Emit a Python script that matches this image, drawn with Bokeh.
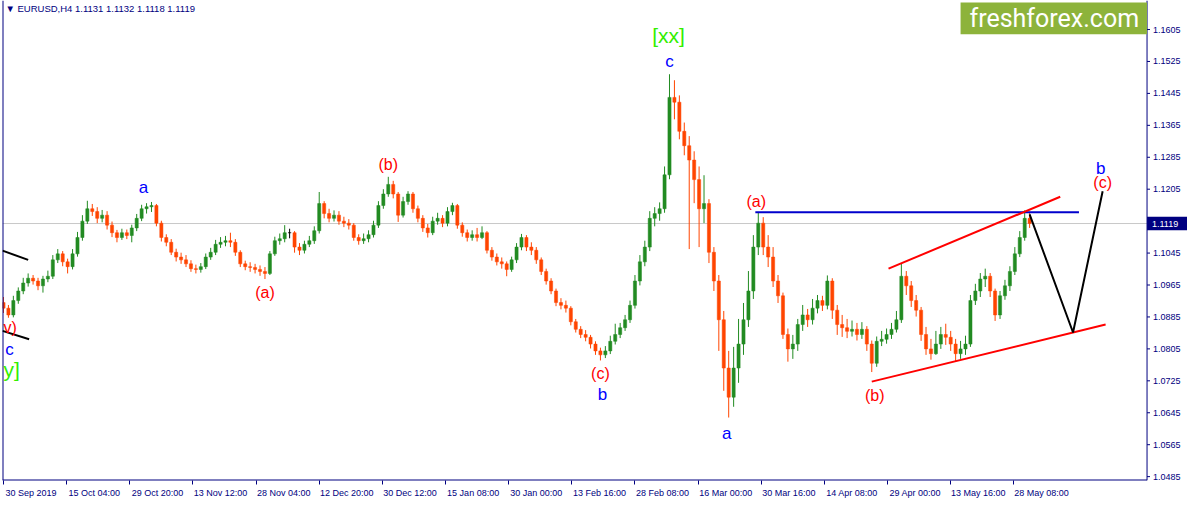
from bokeh.plotting import figure
from bokeh.models import ColumnDataSource, Range1d, FixedTicker, Span
from bokeh.core.properties import value
from bokeh.embed import file_html
from bokeh.resources import INLINE

# ---------------- data ----------------
symbol_title = "\u25bc EURUSD,H4  1.1131 1.1132 1.1118 1.1119"
last_price = 1.1119
last_price_text = "1.1119"
bar_step = 5          # H4 bars per drawn candle
first_open = 1.0921

closes = [
    1.0907, 1.0890, 1.0926, 1.0950, 1.0970, 1.0982, 1.0975, 1.0963, 1.0980, 1.0987,
    1.1028, 1.1043, 1.1023, 1.1011, 1.1043, 1.1084, 1.1125, 1.1156, 1.1149, 1.1132,
    1.1140, 1.1115, 1.1096, 1.1084, 1.1096, 1.1089, 1.1108, 1.1132, 1.1156, 1.1161,
    1.1164, 1.1120, 1.1084, 1.1072, 1.1047, 1.1035, 1.1028, 1.1018, 1.1006, 1.1004,
    1.1011, 1.1035, 1.1047, 1.1067, 1.1072, 1.1076, 1.1072, 1.1047, 1.1018, 1.1011,
    1.1009, 1.1004, 1.0999, 1.0994, 1.1043, 1.1076, 1.1081, 1.1096, 1.1096, 1.1060,
    1.1052, 1.1067, 1.1076, 1.1101, 1.1169, 1.1144, 1.1132, 1.1140, 1.1125, 1.1120,
    1.1115, 1.1084, 1.1076, 1.1081, 1.1091, 1.1115, 1.1164, 1.1193, 1.1217, 1.1193,
    1.1140, 1.1174, 1.1193, 1.1156, 1.1132, 1.1108, 1.1096, 1.1125, 1.1132, 1.1120,
    1.1149, 1.1164, 1.1115, 1.1096, 1.1084, 1.1091, 1.1084, 1.1096, 1.1052, 1.1035,
    1.1023, 1.1018, 1.1004, 1.1028, 1.1060, 1.1084, 1.1060, 1.1052, 1.1028, 1.0999,
    1.0975, 1.0950, 1.0921, 1.0914, 1.0907, 1.0873, 1.0854, 1.0841, 1.0834, 1.0817,
    1.0800, 1.0790, 1.0800, 1.0824, 1.0841, 1.0858, 1.0878, 1.0914, 1.0975, 1.1023,
    1.1060, 1.1132, 1.1144, 1.1156, 1.1241, 1.1435, 1.1423, 1.1350, 1.1314, 1.1278,
    1.1229, 1.1156, 1.1169, 1.1047, 1.0975, 1.0878, 1.0757, 1.0684, 1.0757, 1.0817,
    1.0878, 1.0950, 1.1060, 1.1120, 1.1060, 1.1035, 1.0975, 1.0938, 1.0841, 1.0805,
    1.0817, 1.0866, 1.0890, 1.0878, 1.0907, 1.0926, 1.0914, 1.0975, 1.0902, 1.0866,
    1.0858, 1.0849, 1.0854, 1.0841, 1.0854, 1.0817, 1.0769, 1.0824, 1.0829, 1.0841,
    1.0854, 1.0878, 1.0987, 1.0963, 1.0926, 1.0902, 1.0841, 1.0805, 1.0793, 1.0817,
    1.0841, 1.0834, 1.0817, 1.0793, 1.0805, 1.0817, 1.0926, 1.0950, 1.0980, 1.0987,
    1.0950, 1.0890, 1.0938, 1.0963, 1.0999, 1.1043, 1.1084, 1.1132, 1.1119,
]
highs = [
    1.0935, 1.0915, 1.0938, 1.0959, 1.0983, 1.0994, 1.0990, 1.0983, 1.0988, 1.1001,
    1.1040, 1.1055, 1.1050, 1.1031, 1.1055, 1.1098, 1.1140, 1.1176, 1.1168, 1.1160,
    1.1153, 1.1150, 1.1124, 1.1103, 1.1106, 1.1104, 1.1116, 1.1143, 1.1166, 1.1170,
    1.1173, 1.1168, 1.1126, 1.1092, 1.1080, 1.1056, 1.1046, 1.1040, 1.1027, 1.1016,
    1.1020, 1.1044, 1.1058, 1.1078, 1.1085, 1.1088, 1.1096, 1.1080, 1.1052, 1.1026,
    1.1022, 1.1018, 1.1014, 1.1010, 1.1050, 1.1086, 1.1094, 1.1115, 1.1106, 1.1100,
    1.1070, 1.1076, 1.1088, 1.1112, 1.1198, 1.1175, 1.1156, 1.1152, 1.1150, 1.1136,
    1.1130, 1.1120, 1.1092, 1.1094, 1.1102, 1.1126, 1.1175, 1.1205, 1.1236, 1.1226,
    1.1198, 1.1186, 1.1200, 1.1198, 1.1164, 1.1140, 1.1118, 1.1136, 1.1146, 1.1140,
    1.1160, 1.1171, 1.1168, 1.1122, 1.1104, 1.1102, 1.1108, 1.1112, 1.1100, 1.1060,
    1.1044, 1.1034, 1.1024, 1.1036, 1.1070, 1.1093, 1.1090, 1.1072, 1.1060, 1.1034,
    1.1006, 1.0982, 1.0956, 1.0932, 1.0926, 1.0912, 1.0880, 1.0862, 1.0852, 1.0840,
    1.0824, 1.0808, 1.0812, 1.0838, 1.0868, 1.0870, 1.0890, 1.0926, 1.0990, 1.1040,
    1.1076, 1.1150, 1.1160, 1.1172, 1.1262, 1.1493, 1.1478, 1.1440, 1.1372, 1.1338,
    1.1300, 1.1262, 1.1240, 1.1180, 1.1060, 1.0990, 1.0900, 1.0800, 1.0810, 1.0880,
    1.0920, 1.1000, 1.1090, 1.1147, 1.1135, 1.1090, 1.1060, 1.0990, 1.0946, 1.0856,
    1.0840, 1.0880, 1.0915, 1.0905, 1.0930, 1.0940, 1.0938, 1.0989, 1.0982, 1.0915,
    1.0890, 1.0880, 1.0876, 1.0870, 1.0872, 1.0862, 1.0826, 1.0836, 1.0850, 1.0856,
    1.0870, 1.0900, 1.1018, 1.1000, 1.0975, 1.0940, 1.0910, 1.0860, 1.0830, 1.0850,
    1.0860, 1.0868, 1.0850, 1.0830, 1.0825, 1.0838, 1.0940, 1.0968, 1.0995, 1.1006,
    1.0995, 1.0956, 1.0950, 1.0978, 1.1012, 1.1060, 1.1100, 1.1152, 1.1148,
]
lows = [
    1.0895, 1.0883, 1.0884, 1.0918, 1.0942, 1.0961, 1.0966, 1.0952, 1.0946, 1.0972,
    1.0980, 1.1020, 1.1012, 1.0994, 1.1004, 1.1036, 1.1076, 1.1118, 1.1138, 1.1120,
    1.1122, 1.1104, 1.1085, 1.1072, 1.1078, 1.1080, 1.1072, 1.1100, 1.1125, 1.1144,
    1.1148, 1.1112, 1.1074, 1.1062, 1.1040, 1.1024, 1.1018, 1.1010, 1.0998, 1.0994,
    1.0996, 1.1005, 1.1028, 1.1040, 1.1058, 1.1062, 1.1060, 1.1038, 1.1010, 1.1002,
    1.0998, 1.0994, 1.0988, 1.0980, 1.0990, 1.1038, 1.1066, 1.1072, 1.1082, 1.1046,
    1.1040, 1.1044, 1.1060, 1.1068, 1.1094, 1.1132, 1.1122, 1.1124, 1.1116, 1.1110,
    1.1104, 1.1076, 1.1066, 1.1068, 1.1072, 1.1084, 1.1108, 1.1156, 1.1186, 1.1182,
    1.1123, 1.1134, 1.1166, 1.1146, 1.1122, 1.1098, 1.1084, 1.1090, 1.1116, 1.1110,
    1.1112, 1.1140, 1.1106, 1.1086, 1.1074, 1.1076, 1.1074, 1.1080, 1.1044, 1.1026,
    1.1014, 1.1006, 1.0987, 1.0998, 1.1020, 1.1052, 1.1050, 1.1040, 1.1018, 1.0990,
    1.0966, 1.0942, 1.0912, 1.0904, 1.0896, 1.0864, 1.0846, 1.0832, 1.0824, 1.0806,
    1.0790, 1.0776, 1.0782, 1.0792, 1.0816, 1.0832, 1.0850, 1.0870, 1.0906, 1.0964,
    1.1012, 1.1050, 1.1112, 1.1126, 1.1146, 1.1230, 1.1380, 1.1330, 1.1290, 1.1055,
    1.1170, 1.1060, 1.1120, 1.1020, 1.0950, 1.0800, 1.0700, 1.0633, 1.0660, 1.0720,
    1.0790, 1.0860, 1.0930, 1.1040, 1.1040, 1.1010, 1.0960, 1.0920, 1.0830, 1.0773,
    1.0780, 1.0800, 1.0850, 1.0860, 1.0866, 1.0894, 1.0900, 1.0904, 1.0880, 1.0840,
    1.0835, 1.0832, 1.0836, 1.0826, 1.0830, 1.0800, 1.0747, 1.0760, 1.0812, 1.0818,
    1.0830, 1.0846, 1.0870, 1.0940, 1.0910, 1.0886, 1.0825, 1.0790, 1.0778, 1.0790,
    1.0805, 1.0815, 1.0800, 1.0773, 1.0780, 1.0790, 1.0810, 1.0915, 1.0935, 1.0960,
    1.0935, 1.0875, 1.0880, 1.0928, 1.0950, 1.0990, 1.1035, 1.1076, 1.1108,
]

time_tick_bars = [0, 64, 128, 192, 256, 320, 384, 448, 512, 576, 640, 704, 768, 832, 896, 960, 1024]
time_tick_labels = ["30 Sep 2019", "15 Oct 04:00", "29 Oct 20:00", "13 Nov 12:00", "28 Nov 04:00",
                    "12 Dec 20:00", "30 Dec 12:00", "15 Jan 08:00", "30 Jan 00:00", "13 Feb 16:00",
                    "28 Feb 08:00", "16 Mar 00:00", "30 Mar 16:00", "14 Apr 08:00", "29 Apr 00:00",
                    "13 May 16:00", "28 May 08:00"]
price_ticks = [1.0485, 1.0565, 1.0645, 1.0725, 1.0805, 1.0885, 1.0965, 1.1045, 1.1125,
               1.1205, 1.1285, 1.1365, 1.1445, 1.1525, 1.1605]

# wave labels: (bar, price, text)
blue_labels = [(142, 1.1210, "a"), (607, 1.0691, "b"), (675, 1.1525, "c"),
               (733, 1.0592, "a"), (1112, 1.1258, "b"), (6, 1.0803, "c")]
red_labels = [(265, 1.0946, "(a)"), (390, 1.1266, "(b)"), (605, 1.0744, "(c)"),
              (763, 1.1174, "(a)"), (883, 1.0689, "(b)"), (1114, 1.1222, "(c)")]
green_labels = [(674, 1.1590, "[xx]")]

NAVY = "#000080"
UP = "#228B22"
DOWN = "#FF4500"
X0, X_AXIS, X1 = -1, 1159, 1200          # chart left edge, price-scale line, window edge (bars)
Y0, Y1 = 1.04753, 1.16777

# ---------------- candles ----------------
n = len(closes)
xs = [i * bar_step for i in range(n)]
opens = [first_open] + closes[:-1]
colors = []
for o, c in zip(opens, closes):
    colors.append(UP if c > o else (DOWN if c < o else "black"))
src = ColumnDataSource(dict(
    x=xs, open=opens, close=closes, high=highs, low=lows,
    top=[max(o, c) for o, c in zip(opens, closes)],
    bottom=[min(o, c) for o, c in zip(opens, closes)],
    color=colors))

p = figure(width=1187, height=500, x_range=Range1d(X0, X1), y_range=Range1d(Y0, Y1),
           output_backend="svg", toolbar_location=None,
           min_border_left=2, min_border_right=0, min_border_top=0, min_border_bottom=0)
p.xgrid.visible = False
p.ygrid.visible = False
p.yaxis.visible = False
p.outline_line_color = None
p.background_fill_color = "white"
p.border_fill_color = "white"

p.add_layout(Span(location=last_price, dimension="width", line_color="#C8C8C8", line_width=1, level="underlay"))

p.segment(x0="x", y0="low", x1="x", y1="high", color="color", line_width=1, source=src)
p.vbar(x="x", width=3.2, top="top", bottom="bottom", fill_color="color", line_color="color",
       line_width=0.5, source=src)

# chart frame (left and bottom) and price scale
p.line([X0, X0], [Y0, Y1], line_color=NAVY, line_width=2)
p.line([X0, X_AXIS], [Y0, Y0], line_color=NAVY, line_width=2)
p.line([X_AXIS, X_AXIS], [Y0, Y1], line_color=NAVY, line_width=1)
p.segment(x0=[X_AXIS] * len(price_ticks), x1=[X_AXIS + 3] * len(price_ticks),
          y0=price_ticks, y1=price_ticks, line_color=NAVY, line_width=1)
p.text(x=[X_AXIS + 6] * len(price_ticks), y=price_ticks, text=["%.4f" % t for t in price_ticks],
       text_color=NAVY, text_font=value("Liberation Sans"), text_font_size="9px",
       text_align="left", text_baseline="middle")
p.quad(left=[X_AXIS], right=[X1], top=[last_price + 0.0017], bottom=[last_price - 0.0017],
       fill_color=NAVY, line_color=None)
p.text(x=[X_AXIS + 5], y=[last_price], text=[last_price_text], text_color="white",
       text_font=value("Liberation Sans"), text_font_size="9px", text_align="left", text_baseline="middle")

# ---------------- drawn objects ----------------
p.line([-1, 25], [1.1051, 1.1028], line_color="black", line_width=2)
p.line([-1, 26], [1.0850, 1.0829], line_color="black", line_width=2)
p.line([762, 1090], [1.1147, 1.1147], line_color="#0000CC", line_width=2)
p.line([897, 1071], [1.1006, 1.1186], line_color="#FF0000", line_width=2)
p.line([880, 1117], [1.0723, 1.0866], line_color="#FF0000", line_width=2)
p.line([1040, 1084, 1114], [1.1142, 1.0846, 1.1200], line_color="black", line_width=2)

for lab, col, size in [(blue_labels, "#0000FF", "17px"), (red_labels, "#FF0000", "16px"),
                       (green_labels, "#33EE00", "21px")]:
    p.text(x=[a[0] for a in lab], y=[a[1] for a in lab], text=[a[2] for a in lab],
           text_color=col, text_font=value("Liberation Sans"), text_font_size=size,
           text_align="center", text_baseline="middle")
# labels cut by the left edge of the chart
p.text(x=[0], y=[1.0858], text=["v)"], text_color="#FF0000", text_font=value("Liberation Sans"),
       text_font_size="16px", text_align="left", text_baseline="middle")
p.text(x=[0], y=[1.0754], text=["y]"], text_color="#33EE00", text_font=value("Liberation Sans"),
       text_font_size="21px", text_align="left", text_baseline="middle")

# logo
p.quad(left=[970], right=[X_AXIS], top=[1.1673], bottom=[1.15929], fill_color="#8DB33B", line_color=None)
p.text(x=[1065], y=[1.1633], text=["freshforex.com"], text_color="white",
       text_font=value("Roboto"), text_font_size="25px", text_align="center", text_baseline="middle")

# title
p.text(x=[2], y=[1.1658], text=[symbol_title], text_color=NAVY, text_font=value("Liberation Sans"),
       text_font_size="9.5px", text_align="left", text_baseline="middle")

# ---------------- time axis ----------------
# tick marks are the minor ticks; labels (major ticks) start just right of each tick mark
label_shift = 28
xa = p.xaxis[0]
xa.ticker = FixedTicker(ticks=[b + label_shift for b in time_tick_bars], minor_ticks=time_tick_bars)
xa.major_label_overrides = {b + label_shift: t for b, t in zip(time_tick_bars, time_tick_labels)}
xa.axis_line_color = None
xa.major_tick_line_color = None
xa.major_tick_in = 0
xa.major_tick_out = 0
xa.minor_tick_line_color = NAVY
xa.minor_tick_in = 0
xa.minor_tick_out = 4
xa.major_label_standoff = 3
xa.major_label_text_color = NAVY
xa.major_label_text_font = "Liberation Sans"
xa.major_label_text_font_size = "9px"

open("out.html", "w").write(file_html(p, INLINE))
